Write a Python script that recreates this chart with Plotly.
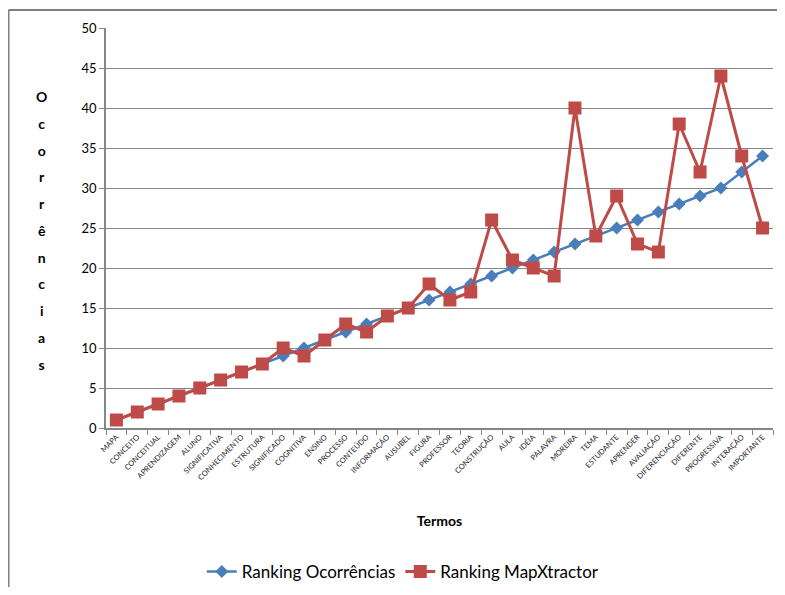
import plotly.graph_objects as go

termos = ["MAPA", "CONCEITO", "CONCEITUAL", "APRENDIZAGEM", "ALUNO", "SIGNIFICATIVA",
          "CONHECIMENTO", "ESTRUTURA", "SIGNIFICADO", "COGNITIVA", "ENSINO", "PROCESSO",
          "CONTEÚDO", "INFORMAÇÃO", "AUSUBEL", "FIGURA", "PROFESSOR", "TEORIA",
          "CONSTRUÇÃO", "AULA", "IDÉIA", "PALAVRA", "MOREIRA", "TEMA", "ESTUDANTE",
          "APRENDER", "AVALIAÇÃO", "DIFERENCIAÇÃO", "DIFERENTE", "PROGRESSIVA",
          "INTERAÇÃO", "IMPORTANTE"]
ranking_ocorrencias = [1, 2, 3, 4, 5, 6, 7, 8, 9, 10, 11, 12, 13, 14, 15, 16, 17, 18,
                       19, 20, 21, 22, 23, 24, 25, 26, 27, 28, 29, 30, 32, 34]
ranking_mapxtractor = [1, 2, 3, 4, 5, 6, 7, 8, 10, 9, 11, 13, 12, 14, 15, 18, 16, 17,
                       26, 21, 20, 19, 40, 24, 29, 23, 22, 38, 32, 44, 34, 25]
y_ticks = [0, 5, 10, 15, 20, 25, 30, 35, 40, 45, 50]

font_family = "Lato, Carlito, Liberation Sans, sans-serif"
blue = "#4A7EBB"
red = "#BE4B48"
gray = "#868686"

W, H = 769, 579
L, R, T, B = 98, 4, 20, 159
pw, ph = W - L - R, H - T - B

fig = go.Figure()
fig.add_trace(go.Scatter(
    x=termos, y=ranking_ocorrencias, mode="lines+markers", name="Ranking Ocorrências",
    line=dict(color=blue, width=2.5),
    marker=dict(symbol="diamond", size=10, color=blue)))
fig.add_trace(go.Scatter(
    x=termos, y=ranking_mapxtractor, mode="lines+markers", name="Ranking MapXtractor",
    line=dict(color=red, width=3),
    marker=dict(symbol="square", size=13, color=red)))

fig.update_layout(
    width=W, height=H,
    margin=dict(l=L, r=R, t=T, b=B, autoexpand=False),
    paper_bgcolor="white", plot_bgcolor="white",
    font=dict(family=font_family, color="#000000"),
    showlegend=True,
    legend=dict(orientation="h", x=0.445, xanchor="center", y=-0.36, yanchor="middle",
                font=dict(size=17, family=font_family), itemwidth=30),
    xaxis=dict(
        type="category", range=[-0.5, len(termos) - 0.5], automargin=False,
        showgrid=False, showline=True, linecolor=gray, linewidth=1.5,
        ticks="outside", ticklen=5, tickcolor=gray, tickson="boundaries",
        tickangle=-45, tickfont=dict(size=7.5, family=font_family, color="#222222"),
        title=dict(text="<b>Termos</b>", font=dict(size=14, family=font_family), standoff=35),
    ),
    yaxis=dict(
        range=[0, 50], tickvals=y_ticks, automargin=False,
        showgrid=True, gridcolor=gray, gridwidth=1,
        showline=True, linecolor=gray, linewidth=1.5,
        ticks="outside", ticklen=5, tickcolor=gray,
        tickfont=dict(size=13, family=font_family), zeroline=False,
    ),
)

# chart-area border (only left and top edges visible in the reference)
fig.add_shape(
    type="line", xref="paper", yref="paper",
    x0=(0.5 - L) / pw, x1=(0.5 - L) / pw,
    y0=(ph - (H + 10 - T)) / ph, y1=(ph + T - 2) / ph,
    line=dict(color="#808080", width=2), layer="below",
)
fig.add_shape(
    type="line", xref="paper", yref="paper",
    x0=(0.5 - L) / pw, x1=(W + 20 - L) / pw,
    y0=(ph + T - 2) / ph, y1=(ph + T - 2) / ph,
    line=dict(color="#808080", width=2), layer="below",
)

letters = "Ocorrências"
fig.add_annotation(
    text="<br>".join("<b><span style='font-size:14px'>%s</span></b>" % c for c in letters),
    xref="paper", yref="paper",
    x=-0.096, y=0.495, xanchor="center", yanchor="middle", showarrow=False,
    font=dict(size=20.6, family=font_family), align="center",
)

fig.write_html("out.html")
